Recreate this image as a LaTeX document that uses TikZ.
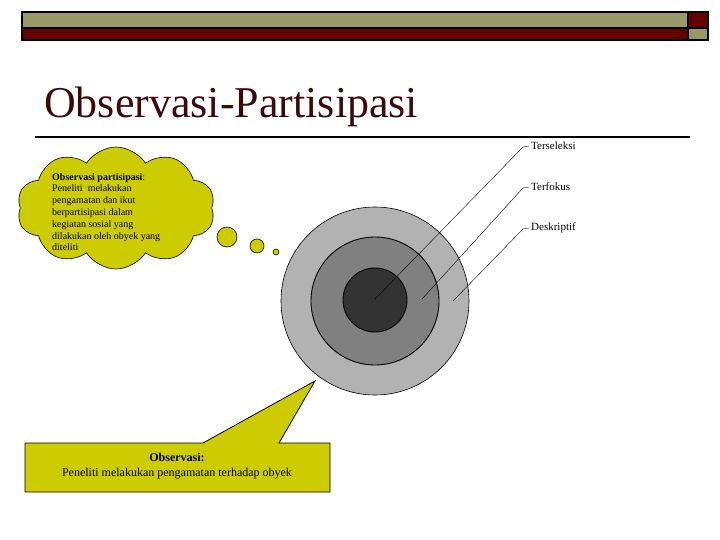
\documentclass[tikz,border=0pt]{standalone}
\usepackage{fontspec}
\setmainfont{Liberation Serif}
\usetikzlibrary{shapes.symbols}

\definecolor{olivebar}{RGB}{153,153,102}
\definecolor{darkred}{RGB}{102,0,0}
\definecolor{bubble}{RGB}{204,204,0}
\definecolor{titlered}{RGB}{60,8,8}

\begin{document}
\begin{tikzpicture}[x=1pt,y=-1pt,
  bar/.style={draw=black, line width=1.3pt},
  leader/.style={black, line width=0.4pt},
  lbl/.style={anchor=west, inner sep=2pt, font=\fontsize{11}{13}\selectfont},
  puff/.style={draw=black, fill=bubble, line width=0.6pt}]
\useasboundingbox (0,0) rectangle (720,540);
% header bars
\filldraw[bar, fill=olivebar] (22,12) rectangle (688,28);
\filldraw[bar, fill=darkred] (22,28) rectangle (688,40);
\filldraw[bar, fill=darkred] (688,12) rectangle (708,28);
\filldraw[bar, fill=olivebar] (688,28) rectangle (708,40);
\node[anchor=base west, inner sep=0, text=titlered, font=\fontsize{44}{50}\selectfont] (title) at (44,118) {Observasi-Partisipasi};
\draw[line width=1.5pt] (35,137) -- (690,137);
% thought cloud
\node[cloud, puff, cloud puffs=10, cloud puff arc=115, aspect=1.6, minimum width=198pt, minimum height=122pt] (cloud) at (116,208) {};
\node[anchor=north west, align=left, inner sep=0, font=\fontsize{10}{11.8}\selectfont] (partext) at (52,173)
  {\textbf{Observasi partisipasi}:\\Peneliti\ \ melakukan\\pengamatan dan ikut\\berpartisipasi dalam\\kegiatan sosial yang\\dilakukan oleh obyek yang\\diteliti};
\filldraw[puff] (227,237) circle (10);
\filldraw[puff] (257,246) circle (7);
\filldraw[puff] (276,252) circle (3);
% rings
\filldraw[draw=black, fill=black!30, line width=0.6pt] (375,301) circle (94);
\filldraw[draw=black, fill=black!50, line width=0.9pt] (375,301) circle (64);
\filldraw[draw=black, fill=black!80, line width=0.9pt] (375,300) circle (32);
% labels
\coordinate (selin) at (375,299);
\coordinate (fokin) at (422,299);
\coordinate (desin) at (453,301);
\node[lbl] (sel) at (529,146) {Terseleksi};
\node[lbl] (fok) at (529,187) {Terfokus};
\node[lbl] (des) at (529,228) {Deskriptif};
\draw[leader] (selin) -- (523,147) -- (sel.west);
\draw[leader] (fokin) -- (523,188) -- (fok.west);
\draw[leader] (desin) -- (523,229) -- (des.west);
% callout
\filldraw[draw=black, fill=bubble, line width=0.8pt] (25,443) -- (203,443) -- (315,381) -- (279,443) -- (330,443) -- (330,492) -- (25,492) -- cycle;
\node[align=center, inner sep=0, font=\fontsize{12}{15}\selectfont] (obs) at (177,466)
  {\textbf{Observasi:}\\Peneliti melakukan pengamatan terhadap obyek};
\end{tikzpicture}
\end{document}
